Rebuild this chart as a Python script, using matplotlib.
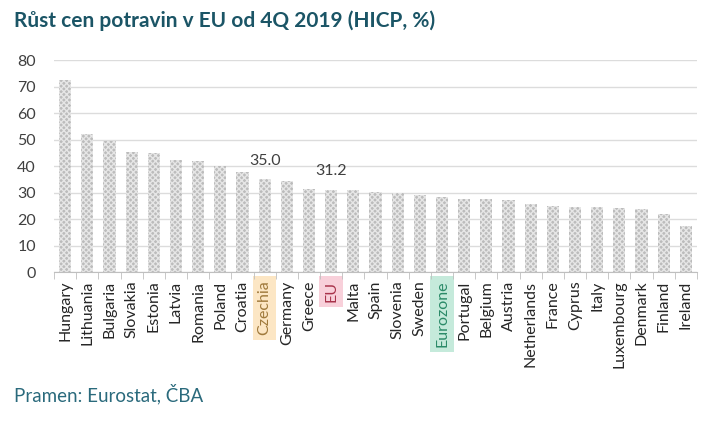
import matplotlib
matplotlib.use("Agg")
import matplotlib.pyplot as plt
import numpy as np

plt.rcParams['font.family'] = ['Lato', 'DejaVu Sans']
plt.rcParams['hatch.linewidth'] = 1.0

countries = ["Hungary", "Lithuania", "Bulgaria", "Slovakia", "Estonia", "Latvia",
             "Romania", "Poland", "Croatia", "Czechia", "Germany", "Greece", "EU",
             "Malta", "Spain", "Slovenia", "Sweden", "Eurozone", "Portugal", "Belgium",
             "Austria", "Netherlands", "France", "Cyprus", "Italy", "Luxembourg",
             "Denmark", "Finland", "Ireland"]
values = [72.3, 52.0, 49.6, 45.3, 45.1, 42.3, 41.9, 39.9, 37.9, 35.0, 34.4, 31.5, 31.2,
          31.2, 30.2, 30.0, 29.1, 28.5, 27.7, 27.7, 27.1, 25.6, 24.9, 24.6, 24.6, 24.2,
          23.9, 21.8, 17.3]
labelled = {"Czechia": "35.0", "EU": "31.2"}
highlights = {"Czechia": ("#fce6c4", "#a07a3c"),
              "EU": ("#f8d0da", "#a8324a"),
              "Eurozone": ("#c5eadb", "#2a8a68")}
yticks = [0, 10, 20, 30, 40, 50, 60, 70, 80]

W, H = 714, 424
fig = plt.figure(figsize=(W / 100, H / 100), dpi=100)
ax = fig.add_axes([54 / W, 1 - 272.3 / H, (697 - 54) / W, (272.3 - 60) / H])

x = np.arange(len(countries))
bars = ax.bar(x, values, width=0.55, color="#bcbcbc", edgecolor="#e6e6e6",
              hatch="xxxxxx", linewidth=0, zorder=2)

ax.set_xlim(-0.5, len(countries) - 0.5)
ax.set_ylim(0, 80)
ax.set_yticks(yticks)
ax.set_yticklabels([str(v) for v in yticks], fontsize=11.5, color="#404040")
ax.grid(axis="y", color="#dcdcdc", linewidth=1, zorder=0)
ax.set_axisbelow(True)

for s in ["top", "right", "left"]:
    ax.spines[s].set_visible(False)
ax.spines["bottom"].set_color("#bfbfbf")
ax.tick_params(axis="y", length=0, pad=13)

ax.set_xticks(x)
ax.set_xticklabels(countries, rotation=90, fontsize=11.5, color="#262626")
ax.tick_params(axis="x", length=0, pad=6)
ax.set_xticks(np.arange(-0.5, len(countries), 1.0), minor=True)
ax.tick_params(axis="x", which="minor", length=5, color="#bfbfbf", direction="out")

for lbl in ax.get_xticklabels():
    name = lbl.get_text()
    if name in highlights:
        bg, fg = highlights[name]
        lbl.set_color(fg)
        lbl.set_bbox(dict(facecolor=bg, edgecolor="none", pad=3.5))

for i, c in enumerate(countries):
    if c in labelled:
        ax.annotate(labelled[c], (i, values[i]), xytext=(0, 8), textcoords="offset points",
                    ha="center", va="bottom", fontsize=11.5, color="#404040")

fig.text(14 / W, 1 - 21 / H, "Růst cen potravin v EU od 4Q 2019 (HICP, %)",
         fontsize=15, fontweight="bold", color="#1b5566", va="center", ha="left")
fig.text(14 / W, 1 - 394 / H, "Pramen: Eurostat, ČBA", fontsize=13.5,
         color="#2a6a7c", va="center", ha="left")

fig.savefig("out.png", dpi=100)
